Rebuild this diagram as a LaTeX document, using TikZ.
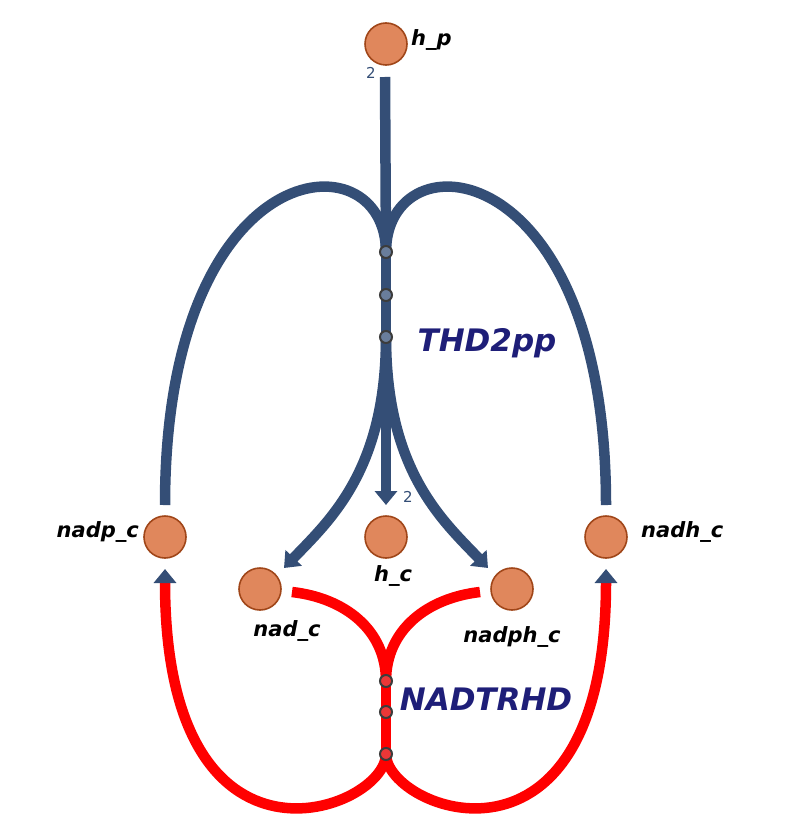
\documentclass[tikz,border=0pt]{standalone}
\usepackage{fontspec}
\setmainfont{DejaVu Sans}
\usetikzlibrary{arrows.meta}
\definecolor{rblue}{RGB}{52,78,118}
\definecolor{rred}{RGB}{255,0,0}
\definecolor{mfill}{RGB}{224,135,92}
\definecolor{mdraw}{RGB}{160,70,25}
\definecolor{lblue}{RGB}{30,30,120}
\definecolor{mkb}{RGB}{105,125,155}
\definecolor{mkr}{RGB}{235,55,55}
\definecolor{mkd}{RGB}{60,60,60}
\begin{document}
\begin{tikzpicture}[x=1pt,y=-1pt,
  met/.style={circle,fill=mfill,draw=mdraw,line width=1.6pt,minimum size=42pt,inner sep=0pt},
  mlabel/.style={font=\fontsize{21}{25}\selectfont\bfseries\itshape,text=black,inner sep=0pt},
  rlabel/.style={font=\fontsize{31}{37}\selectfont\bfseries\itshape,text=lblue,inner sep=0pt},
  stoich/.style={font=\fontsize{15}{17}\selectfont,text=rblue,inner sep=0pt},
  bline/.style={draw=rblue,line width=10.5pt},
  rline/.style={draw=rred,line width=10.5pt},
  tipb/.style={-{Triangle[length=14pt,width=22pt,color=rblue]}},
  bmark/.style={circle,fill=mkb,draw=mkd,line width=2pt,minimum size=12pt,inner sep=0pt},
  rmark/.style={circle,fill=mkr,draw=mkd,line width=2pt,minimum size=12pt,inner sep=0pt}]
\useasboundingbox (0,0) rectangle (797,837);
% coordinates
\coordinate (hpend) at (385,77);
\coordinate (m1) at (386,252);
\coordinate (m2) at (386,295);
\coordinate (m3) at (386,337);
\coordinate (nadptop) at (165,505);
\coordinate (nadhtop) at (606,505);
\coordinate (hctip) at (386,505);
\coordinate (nadtip) at (284,568);
\coordinate (nadphtip) at (488,568);
\coordinate (nadr) at (292,592);
\coordinate (nadphr) at (480,592);
\coordinate (r1) at (386,681);
\coordinate (r2) at (386,712);
\coordinate (r3) at (386,754);
\coordinate (nadpbot) at (165,569);
\coordinate (nadhbot) at (606,569);
% blue reaction
\draw[bline] (hpend) -- (m1);
\draw[bline] (nadptop) .. controls (165,150) and (386,135) .. (m1);
\draw[bline] (nadhtop) .. controls (606,150) and (386,135) .. (m1);
\draw[bline] (m1) -- (m3);
\draw[bline,tipb] (m3) -- (hctip);
\draw[bline,tipb] (m3) .. controls (386,470) and (330,520) .. (nadtip);
\draw[bline,tipb] (m3) .. controls (386,470) and (442,520) .. (nadphtip);
% red reaction
\draw[rline] (nadr) .. controls (345,598) and (386,630) .. (r1);
\draw[rline] (nadphr) .. controls (427,598) and (386,630) .. (r1);
\draw[rline] (r1) -- (r3);
\draw[rline,tipb] (r3) .. controls (386,810) and (165,895) .. (nadpbot);
\draw[rline,tipb] (r3) .. controls (386,810) and (606,895) .. (nadhbot);
% markers
\node[bmark] (mk1) at (m1) {};
\node[bmark] (mk2) at (m2) {};
\node[bmark] (mk3) at (m3) {};
\node[rmark] (mk4) at (r1) {};
\node[rmark] (mk5) at (r2) {};
\node[rmark] (mk6) at (r3) {};
% metabolites
\node[met] (hp) at (386,44) {};
\node[met] (nadp) at (165,537) {};
\node[met] (hc) at (386,537) {};
\node[met] (nadh) at (606,537) {};
\node[met] (nad) at (260,589) {};
\node[met] (nadph) at (512,589) {};
% labels
\node[mlabel,anchor=west] (lhp) at (411,40) {h\_p};
\node[mlabel,anchor=east] (lnadp) at (139,532) {nadp\_c};
\node[mlabel,anchor=west] (lnadh) at (641,532) {nadh\_c};
\node[mlabel] (lhc) at (393,576) {h\_c};
\node[mlabel] (lnad) at (287,631) {nad\_c};
\node[mlabel] (lnadph) at (512,637) {nadph\_c};
\node[rlabel] (lthd) at (487,343) {THD2pp};
\node[rlabel] (lnadt) at (486,699) {NADTRHD};
\node[stoich] (s1) at (371,73) {2};
\node[stoich] (s2) at (408,497) {2};
\end{tikzpicture}
\end{document}
